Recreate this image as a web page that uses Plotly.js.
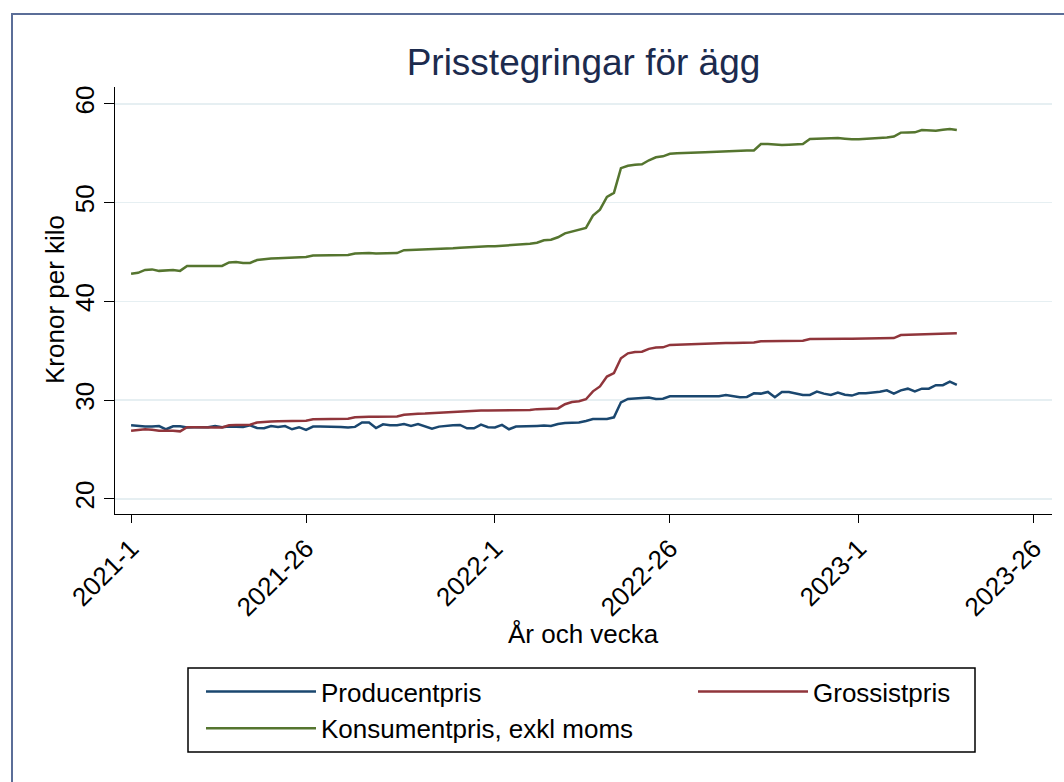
<!DOCTYPE html>
<html>
<head>
<meta charset="utf-8">
<script src="https://cdn.plot.ly/plotly-3.0.1.min.js"></script>
<style>
  html, body { margin: 0; padding: 0; background: #fff; }
  #chart { width: 1064px; height: 782px; position: absolute; left: 0; top: 0; }
  #frame { position: absolute; left: 11px; top: 13px; width: 1100px; height: 800px;
           border-left: 2px solid #5b6e98; border-top: 2px solid #5b6e98; pointer-events: none; }
</style>
</head>
<body>
<div id="chart"></div>
<div id="frame"></div>
<script>
// Week labels: 2021 weeks 1-52, 2022 weeks 1-52, 2023 weeks 1-15
const years = [2021, 2022, 2023];
const weeksPerYear = [52, 52, 15];
const weekLabels = [];
years.forEach((y, k) => { for (let w = 1; w <= weeksPerYear[k]; w++) weekLabels.push(y + '-' + w); });

const tickLabels = ['2021-1', '2021-26', '2022-1', '2022-26', '2023-1', '2023-26'];
const tickPositions = [0, 25, 52, 77, 104, 129];

const seriesNames = ['Producentpris', 'Grossistpris', 'Konsumentpris, exkl moms'];

const producentpris = [
  27.46, 27.36, 27.33, 27.33, 27.39, 27.06, 27.36, 27.36, 27.24, 27.27,
  27.27, 27.27, 27.39, 27.27, 27.33, 27.30, 27.30, 27.46, 27.19, 27.16,
  27.39, 27.30, 27.39, 27.06, 27.27, 26.99, 27.33, 27.33, 27.33, 27.33,
  27.30, 27.24, 27.30, 27.74, 27.74, 27.19, 27.56, 27.46, 27.46, 27.58,
  27.39, 27.58, 27.39, 27.13, 27.33, 27.43, 27.46, 27.50, 27.16, 27.16,
  27.53, 27.27, 27.24, 27.50, 27.06, 27.33, 27.33, 27.35, 27.40, 27.43,
  27.39, 27.60, 27.70, 27.72, 27.74, 27.90, 28.10, 28.10, 28.10, 28.27,
  29.79, 30.13, 30.16, 30.20, 30.27, 30.13, 30.16, 30.40, 30.40, 30.40,
  30.40, 30.38, 30.37, 30.38, 30.40, 30.53, 30.43, 30.30, 30.33, 30.70,
  30.67, 30.84, 30.30, 30.84, 30.84, 30.70, 30.53, 30.53, 30.87, 30.67,
  30.53, 30.77, 30.55, 30.47, 30.70, 30.70, 30.75, 30.87, 31.00, 30.67,
  31.00, 31.17, 30.90, 31.17, 31.17, 31.52, 31.52, 31.88, 31.55
];

const grossistpris = [
  26.92, 27.00, 27.06, 27.00, 26.90, 26.90, 26.92, 26.85, 27.27, 27.27,
  27.24, 27.24, 27.24, 27.24, 27.46, 27.50, 27.52, 27.53, 27.75, 27.83,
  27.85, 27.86, 27.88, 27.90, 27.93, 27.93, 28.07, 28.07, 28.08, 28.09,
  28.10, 28.12, 28.27, 28.32, 28.34, 28.34, 28.34, 28.34, 28.36, 28.52,
  28.60, 28.64, 28.66, 28.70, 28.72, 28.75, 28.80, 28.85, 28.94, 28.95,
  28.96, 28.97, 28.98, 29.00, 29.00, 29.00, 29.00, 29.02, 29.10, 29.12,
  29.13, 29.17, 29.60, 29.82, 29.90, 30.10, 30.90, 31.40, 32.40, 32.75,
  34.25, 34.75, 34.89, 34.92, 35.20, 35.33, 35.36, 35.60, 35.62, 35.65,
  35.70, 35.72, 35.74, 35.77, 35.78, 35.79, 35.80, 35.82, 35.83, 35.84,
  35.97, 35.97, 35.97, 35.97, 35.98, 36.00, 36.03, 36.20, 36.22, 36.23,
  36.23, 36.23, 36.23, 36.23, 36.23, 36.23, 36.25, 36.27, 36.29, 36.30,
  36.60, 36.62, 36.63, 36.65, 36.67, 36.68, 36.68, 36.72, 36.78
];

const konsumentpris = [
  42.80, 42.90, 43.20, 43.25, 43.10, 43.15, 43.20, 43.10, 43.60, 43.60,
  43.60, 43.60, 43.60, 43.60, 43.95, 44.00, 43.90, 43.90, 44.20, 44.30,
  44.35, 44.38, 44.40, 44.43, 44.45, 44.50, 44.65, 44.65, 44.66, 44.67,
  44.68, 44.70, 44.85, 44.90, 44.90, 44.85, 44.85, 44.85, 44.90, 45.20,
  45.22, 45.30, 45.30, 45.30, 45.30, 45.33, 45.40, 45.45, 45.50, 45.55,
  45.60, 45.60, 45.60, 45.65, 45.70, 45.72, 45.75, 45.85, 45.95, 46.20,
  46.25, 46.50, 46.90, 47.10, 47.30, 47.45, 48.70, 49.30, 50.60, 51.00,
  53.50, 53.75, 53.85, 53.90, 54.30, 54.60, 54.70, 54.95, 55.00, 55.05,
  55.07, 55.08, 55.10, 55.14, 55.17, 55.20, 55.24, 55.27, 55.30, 55.30,
  55.95, 55.95, 55.90, 55.85, 55.88, 55.90, 55.95, 56.46, 56.50, 56.52,
  56.55, 56.55, 56.48, 56.42, 56.44, 56.48, 56.50, 56.55, 56.60, 56.70,
  57.10, 57.12, 57.13, 57.37, 57.32, 57.30, 57.40, 57.47, 57.37
];

const colors = ['#1a476f', '#90353b', '#55752f'];

const xIndex = weekLabels.map((_, i) => i);
const FONT = '"Liberation Sans", Arial, sans-serif';

const traces = [
  { x: xIndex, y: producentpris, text: weekLabels, name: seriesNames[0], mode: 'lines',
    line: { color: colors[0], width: 2.5 }, legend: 'legend' },
  { x: xIndex, y: grossistpris, text: weekLabels, name: seriesNames[1], mode: 'lines',
    line: { color: colors[1], width: 2.5 }, legend: 'legend2' },
  { x: xIndex, y: konsumentpris, text: weekLabels, name: seriesNames[2], mode: 'lines',
    line: { color: colors[2], width: 2.5 }, legend: 'legend' }
];

const L = 115, R = 12, T = 87, B = 268;
const W = 1064, H = 782;
const pw = W - L - R, ph = H - T - B;
const px = v => (v - L) / pw;
const py = v => (H - B - v) / ph;

const layout = {
  width: W, height: H,
  margin: { l: L, r: R, t: T, b: B, pad: 0, autoexpand: false },
  paper_bgcolor: '#ffffff', plot_bgcolor: '#ffffff',
  font: { family: FONT, size: 26, color: '#000' },
  showlegend: true,
  title: { text: 'Prisstegringar för ägg', font: { family: FONT, size: 37, color: '#1c2b4e' },
           x: 0.5, xref: 'paper', y: 1 - 62 / H, yref: 'container', yanchor: 'middle', xanchor: 'center' },
  xaxis: {
    range: [-2.3, 131.6], tickmode: 'array', tickvals: tickPositions, ticktext: tickLabels,
    tickangle: -45, ticks: 'outside', ticklen: 8, tickwidth: 1, tickcolor: '#000',
    showline: true, linecolor: '#000', linewidth: 1, showgrid: false, zeroline: false,
    tickfont: { family: FONT, size: 26, color: '#000' }
  },
  yaxis: {
    range: [18.48, 61.72], tickmode: 'array', tickvals: [20, 30, 40, 50, 60],
    tickangle: -90, ticks: 'outside', ticklen: 10, tickwidth: 1, tickcolor: '#000',
    showline: true, linecolor: '#000', linewidth: 1, showgrid: true, gridcolor: '#e6eff2', gridwidth: 1.5,
    zeroline: false, tickfont: { family: FONT, size: 26, color: '#000' }
  },
  annotations: [
    { text: 'Kronor per kilo', xref: 'paper', yref: 'paper', x: px(55), y: py(300), textangle: -90,
      showarrow: false, xanchor: 'center', yanchor: 'middle', font: { family: FONT, size: 26, color: '#000' } },
    { text: 'År och vecka', xref: 'paper', yref: 'paper', x: 0.5, y: py(634),
      showarrow: false, xanchor: 'center', yanchor: 'middle', font: { family: FONT, size: 26, color: '#000' } }
  ],
  shapes: [
    { type: 'rect', xref: 'paper', yref: 'paper', x0: px(188), x1: px(975), y0: py(752), y1: py(668),
      line: { color: '#000', width: 1.5 }, fillcolor: 'rgba(0,0,0,0)' }
  ],
  legend: { x: px(201), y: py(668), xanchor: 'left', yanchor: 'top', orientation: 'v',
            bgcolor: 'rgba(0,0,0,0)', borderwidth: 0, itemwidth: 110, tracegroupgap: 0,
            font: { family: FONT, size: 26, color: '#000' } },
  legend2: { x: px(693), y: py(668), xanchor: 'left', yanchor: 'top', orientation: 'v',
             bgcolor: 'rgba(0,0,0,0)', borderwidth: 0, itemwidth: 110,
             font: { family: FONT, size: 26, color: '#000' } }
};

Plotly.newPlot('chart', traces, layout, { displayModeBar: false, staticPlot: true });
</script>
</body>
</html>
